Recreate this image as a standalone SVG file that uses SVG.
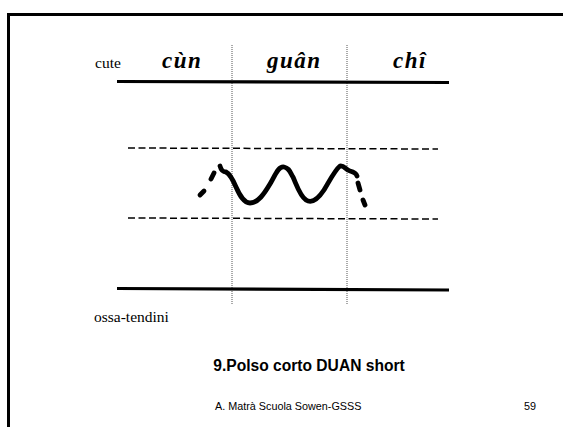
<svg xmlns="http://www.w3.org/2000/svg" width="563" height="427" viewBox="0 0 563 427">
<style>
.serif{font-family:"Liberation Serif","Times New Roman",serif;fill:#000}
.head{font-family:"Liberation Serif","Times New Roman",serif;font-weight:bold;font-style:italic;font-size:23px;letter-spacing:1.5px;fill:#000}
.sans{font-family:"Liberation Sans",Arial,sans-serif;fill:#000}
.thick{stroke:#000;stroke-width:3.2;fill:none}
.dash{stroke:#000;stroke-width:1.5;stroke-dasharray:7,3.5;fill:none}
.dot{stroke:#555;stroke-width:1;stroke-dasharray:1,1;fill:none}
.wave{stroke:#000;stroke-width:4.8;fill:none;stroke-linecap:round;stroke-linejoin:round}
</style>
<rect width="563" height="427" fill="#fff"/>
<path d="M8.5,427 V14.5 H563" stroke="#000" stroke-width="3" fill="none"/>
<g id="grid">
<line class="dot" x1="232" y1="45" x2="232" y2="304"/>
<line class="dot" x1="347" y1="45" x2="347" y2="304"/>
<line class="thick" x1="117" y1="81.5" x2="449" y2="82.5"/>
<line class="thick" x1="117" y1="288.5" x2="449" y2="290"/>
<line class="dash" x1="128" y1="148" x2="438" y2="149"/>
<line class="dash" x1="128" y1="218" x2="438" y2="219"/>
</g>
<g id="labels">
<text class="serif" x="95" y="68" font-size="15.5">cute</text>
<text class="head" x="162" y="68">cùn</text>
<text class="head" x="267" y="68">guân</text>
<text class="head" x="393" y="68">chî</text>
<text class="serif" x="94" y="322" font-size="15.5">ossa-tendini</text>
</g>
<g id="wave">
<path class="wave" stroke-width="3" d="M200,195 L204,191 M211,179 L214,173"/>
<path class="wave" d="M220,166 C221,170 223,172 226,172 C230,174 233,180 236,187 C240,196 244,203 250,203 C258,203 264,194 270,184 C275,176 278,166 284,167 C289,168 290,172 293,177 C297,186 300,196 306,200 C312,204 318,199 324,190 C330,180 335,170 340,166 C344,165 346,170 350,171 C354,172 356,173 357,176"/>
<path class="wave" stroke-width="3" d="M358,183 L360,190 M363,200 L365,205"/>
</g>
<g id="footer">
<text class="sans" x="309" y="371" font-size="15.6" font-weight="bold" text-anchor="middle">9.Polso corto DUAN short</text>
<text class="sans" x="215" y="410" font-size="10.8">A. Matrà Scuola Sowen-GSSS</text>
<text class="sans" x="524" y="410" font-size="10.8">59</text>
</g>
</svg>
